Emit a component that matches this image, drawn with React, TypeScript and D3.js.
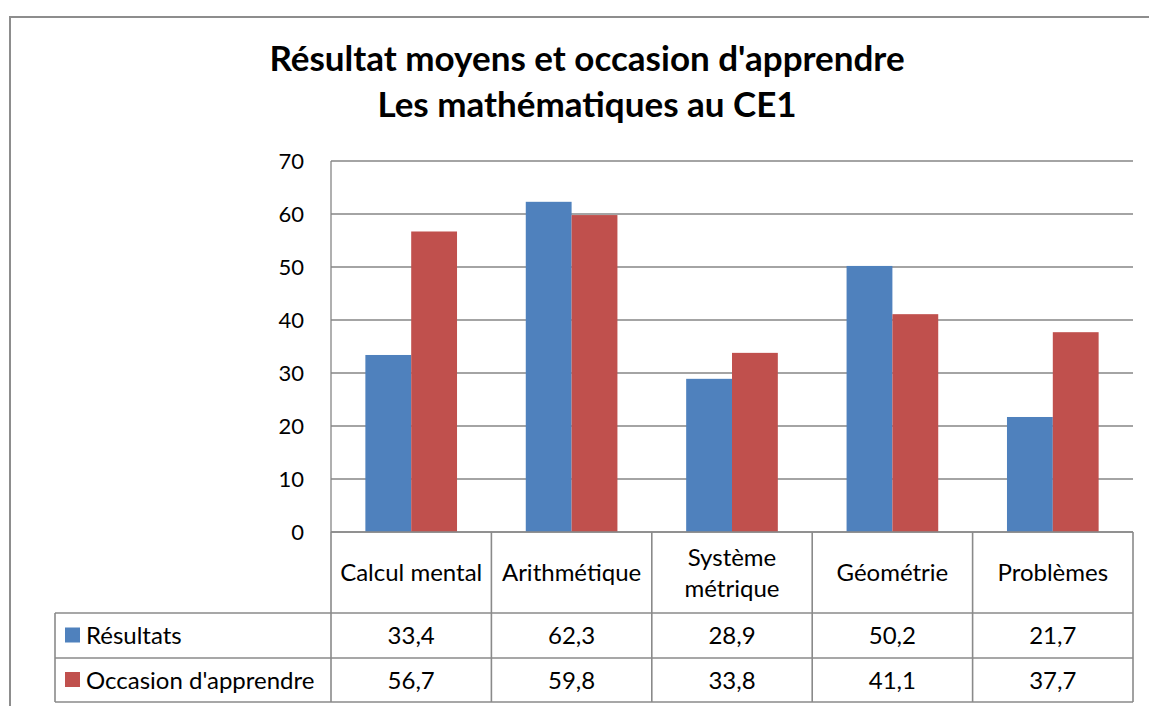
import React from "react";
import * as d3 from "d3";

const categories: string[][] = [
  ["Calcul mental"],
  ["Arithmétique"],
  ["Système", "métrique"],
  ["Géométrie"],
  ["Problèmes"],
];
const resultats: number[] = [33.4, 62.3, 28.9, 50.2, 21.7];
const occasion: number[] = [56.7, 59.8, 33.8, 41.1, 37.7];
const seriesNames: string[] = ["Résultats", "Occasion d'apprendre"];
const seriesColors: string[] = ["#4F81BD", "#C0504D"];
const yTicks: number[] = [0, 10, 20, 30, 40, 50, 60, 70];
const titleLines: string[] = [
  "Résultat moyens et occasion d'apprendre",
  "Les mathématiques au CE1",
];

const W = 1149;
const H = 706;
const FONT = "Lato, 'Open Sans', sans-serif";

export default function App() {
  const plotLeft = 331;
  const plotRight = 1133;
  const plotTop = 161;
  const plotBottom = 532;
  const catRowBottom = 613;
  const row1Bottom = 658;
  const row2Bottom = 702;
  const legendLeft = 55;

  const x = d3
    .scaleBand<number>()
    .domain(categories.map((_, i) => i))
    .range([plotLeft, plotRight])
    .paddingInner(0)
    .paddingOuter(0);
  const y = d3.scaleLinear().domain([0, 70]).range([plotBottom, plotTop]);
  const bw = x.bandwidth() / 3.5;
  const series = [resultats, occasion];
  const locale = d3.formatLocale({
    decimal: ",",
    thousands: " ",
    grouping: [3],
    currency: ["", "€"],
  });
  const fmt = locale.format(".1f");
  const gridColor = "#868686";
  const tableColor = "#8a8a8a";
  const rowBounds = [
    [catRowBottom, row1Bottom],
    [row1Bottom, row2Bottom],
  ];
  const bodySize = 24;

  return (
    <svg
      width={W}
      height={H}
      style={{ position: "absolute", left: 0, top: 0, background: "#fff" }}
      fontFamily={FONT}
    >
      <rect x={0} y={0} width={W} height={H} fill="#fff" />
      {/* outer chart border */}
      <line x1={10} y1={17} x2={W} y2={17} stroke="#8d8d8d" strokeWidth={2} />
      <line x1={10} y1={16} x2={10} y2={H} stroke="#8d8d8d" strokeWidth={2} />

      {/* title */}
      {titleLines.map((t, i) => (
        <text
          key={i}
          x={587}
          y={71 + i * 46}
          textAnchor="middle"
          fontWeight="bold"
          fontSize={35}
          fill="#000"
        >
          {t}
        </text>
      ))}

      {/* gridlines */}
      {yTicks.map((t) => (
        <line
          key={t}
          x1={plotLeft}
          x2={plotRight}
          y1={y(t)}
          y2={y(t)}
          stroke={t === 0 ? tableColor : gridColor}
          strokeWidth={t === 0 ? 1.6 : 1.3}
        />
      ))}
      {/* y tick labels */}
      {yTicks.map((t) => (
        <text
          key={"l" + t}
          x={304}
          y={y(t)}
          dy="0.36em"
          textAnchor="end"
          fontSize={22}
          fill="#000"
        >
          {t}
        </text>
      ))}
      {/* vertical axis line */}
      <line x1={plotLeft} x2={plotLeft} y1={plotTop} y2={plotBottom} stroke={gridColor} strokeWidth={1.3} />

      {/* bars */}
      {categories.map((_, i) => {
        const cx = (x(i) as number) + x.bandwidth() / 2;
        return series.map((s, j) => (
          <rect
            key={i + "-" + j}
            x={cx - bw + j * bw}
            y={y(s[i])}
            width={bw}
            height={plotBottom - y(s[i])}
            fill={seriesColors[j]}
          />
        ));
      })}

      {/* data table: horizontal lines */}
      <line x1={plotLeft} x2={plotRight} y1={plotBottom} y2={plotBottom} stroke={tableColor} strokeWidth={1.6} />
      {[catRowBottom, row1Bottom, row2Bottom].map((yy, k) => (
        <line key={"h" + k} x1={legendLeft} x2={plotRight} y1={yy} y2={yy} stroke={tableColor} strokeWidth={1.6} />
      ))}
      {/* vertical lines */}
      <line x1={legendLeft} x2={legendLeft} y1={catRowBottom} y2={row2Bottom} stroke={tableColor} strokeWidth={1.6} />
      {categories.map((_, i) => (
        <line
          key={"v" + i}
          x1={x(i) as number}
          x2={x(i) as number}
          y1={plotBottom}
          y2={row2Bottom}
          stroke={tableColor}
          strokeWidth={1.6}
        />
      ))}
      <line x1={plotRight} x2={plotRight} y1={plotBottom} y2={row2Bottom} stroke={tableColor} strokeWidth={1.6} />

      {/* category labels */}
      {categories.map((lines, i) => {
        const cx = (x(i) as number) + x.bandwidth() / 2;
        const cy = (plotBottom + catRowBottom) / 2;
        const lh = 31;
        return lines.map((ln, k) => (
          <text
            key={"c" + i + k}
            x={cx}
            y={cy + (k - (lines.length - 1) / 2) * lh}
            dy="0.36em"
            textAnchor="middle"
            fontSize={bodySize}
            fill="#000"
          >
            {ln}
          </text>
        ));
      })}

      {/* legend + values */}
      {series.map((s, j) => {
        const [r0, r1] = rowBounds[j];
        const cy = (r0 + r1) / 2;
        return (
          <g key={"r" + j}>
            <rect x={65} y={cy - 8} width={15} height={15} fill={seriesColors[j]} />
            <text x={86} y={cy} dy="0.36em" fontSize={bodySize} fill="#000">
              {seriesNames[j]}
            </text>
            {s.map((v, i) => (
              <text
                key={"v" + i}
                x={(x(i) as number) + x.bandwidth() / 2}
                y={cy}
                dy="0.36em"
                textAnchor="middle"
                fontSize={bodySize}
                fill="#000"
              >
                {fmt(v)}
              </text>
            ))}
          </g>
        );
      })}
    </svg>
  );
}
